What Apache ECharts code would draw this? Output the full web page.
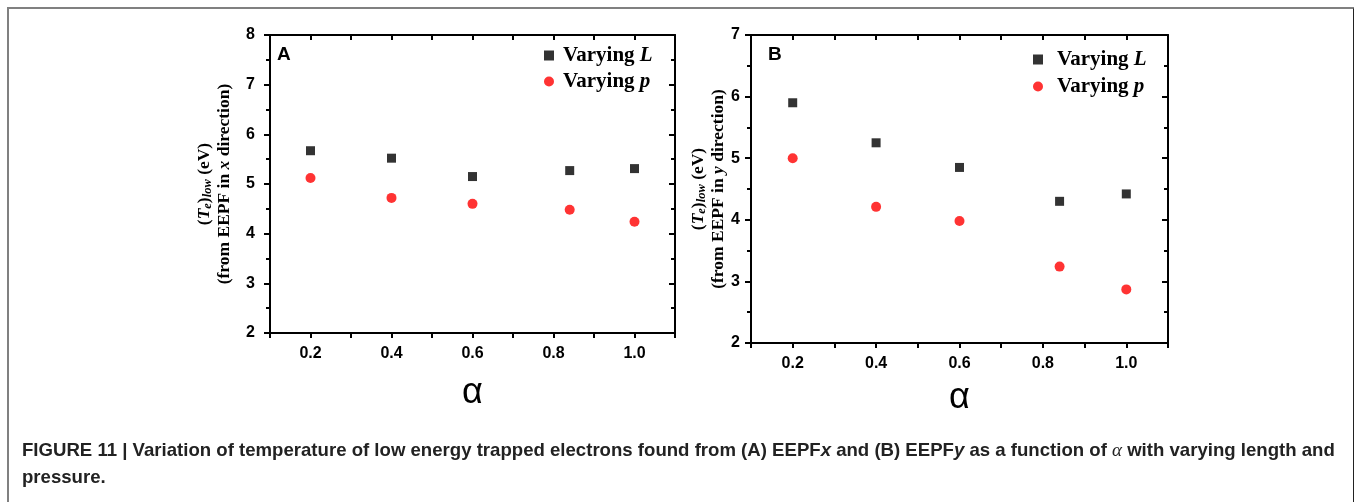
<!DOCTYPE html>
<html>
<head>
<meta charset="utf-8">
<script src="https://cdn.jsdelivr.net/npm/echarts@6/dist/echarts.min.js"></script>
<style>
html,body{margin:0;padding:0;background:#fff;}
#frame{position:absolute;left:7px;top:7px;width:1344px;height:500px;border-top:2px solid #808080;border-left:2px solid #808080;border-right:2px solid #222;}
#chart{position:absolute;left:0;top:0;width:1354px;height:502px;}
</style>
</head>
<body>
<div id="frame"></div>
<div id="chart"></div>
<script>
// ---- data ----
const alphaValues = [0.2, 0.4, 0.6, 0.84, 1.0];
const panelA_varyingL = [5.67, 5.52, 5.15, 5.27, 5.31];
const panelA_varyingP = [5.12, 4.72, 4.60, 4.48, 4.24];
const panelB_varyingL = [5.90, 5.25, 4.85, 4.30, 4.42];
const panelB_varyingP = [5.00, 4.21, 3.98, 3.24, 2.87];
const xTickLabels = ['0.2', '0.4', '0.6', '0.8', '1.0'];
const seriesNames = ['Varying L', 'Varying p'];

const pairs = (xs, ys) => xs.map((x, i) => [x, ys[i]]);

const chart = echarts.init(document.getElementById('chart'), null, {renderer: 'canvas'});

const labelFont = {fontFamily: 'Liberation Sans, Arial, sans-serif', fontWeight: 'bold', fontSize: 16, color: '#000'};
const serif = 'Liberation Serif, Times New Roman, serif';

function xAxes(gridIndex, nameGap) {
  const common = {
    gridIndex, type: 'value', min: 0.1, max: 1.1, interval: 0.1,
    splitLine: {show: false},
    axisLine: {onZero: false, lineStyle: {color: '#000', width: 2}}
  };
  return [
    Object.assign({}, common, {
      position: 'bottom',
      name: 'α', nameLocation: 'middle', nameGap,
      nameTextStyle: {fontFamily: 'Liberation Sans, Arial, sans-serif', fontSize: 36, color: '#000'},
      axisTick: {show: true, inside: false, length: 5, lineStyle: {color: '#000', width: 2}},
      axisLabel: Object.assign({}, labelFont, {margin: 13, formatter: v => {
        const s = v.toFixed(1);
        return xTickLabels.indexOf(s) >= 0 ? s : '';
      }})
    }),
    Object.assign({}, common, {
      position: 'top',
      axisTick: {show: true, inside: true, length: 5, lineStyle: {color: '#000', width: 2}},
      axisLabel: {show: false}
    })
  ];
}

function yAxes(gridIndex, min, max, subject, nameGap, labelMargin) {
  const common = {
    gridIndex, type: 'value', min, max, interval: 1,
    splitLine: {show: false},
    axisLine: {onZero: false, lineStyle: {color: '#000', width: 2}},
    minorTick: {show: true, splitNumber: 2, length: 4, lineStyle: {color: '#000', width: 2}}
  };
  return [
    Object.assign({}, common, {
      position: 'left',
      name: '{a|(}{ai|T}{sub|e}{a|)}{sub|low}{a| (eV)}\n{a|(from EEPF in }{ai|' + subject + '}{a| direction)}',
      nameLocation: 'middle', nameRotate: 90, nameGap,
      nameTextStyle: {
        color: '#000',
        rich: {
          a: {fontFamily: serif, fontWeight: 'bold', fontSize: 17.5, color: '#000', lineHeight: 20},
          ai: {fontFamily: serif, fontWeight: 'bold', fontStyle: 'italic', fontSize: 17.5, color: '#000', lineHeight: 20},
          sub: {fontFamily: serif, fontWeight: 'bold', fontStyle: 'italic', fontSize: 12.5, color: '#000', lineHeight: 13, verticalAlign: 'bottom'}
        }
      },
      axisTick: {show: true, inside: false, length: 6, lineStyle: {color: '#000', width: 2}},
      axisLabel: Object.assign({}, labelFont, {margin: labelMargin})
    }),
    Object.assign({}, common, {
      position: 'right',
      axisTick: {show: true, inside: true, length: 6, lineStyle: {color: '#000', width: 2}},
      axisLabel: {show: false}
    })
  ];
}

function legend(left, top, gap, textPad) {
  return {
    left, top, orient: 'vertical', itemWidth: 10, itemHeight: 10, itemGap: gap,
    selectedMode: false,
    data: [{name: seriesNames[0], icon: 'rect'}, {name: seriesNames[1], icon: 'circle'}],
    formatter: n => n === seriesNames[0] ? '{t|Varying }{i|L}' : '{t|Varying }{i|p}',
    textStyle: {
      rich: {
        t: {fontFamily: serif, fontWeight: 'bold', fontSize: 21, color: '#000', padding: [0, 0, 0, textPad]},
        i: {fontFamily: serif, fontWeight: 'bold', fontStyle: 'italic', fontSize: 21, color: '#000'}
      }
    }
  };
}

function scatter(name, xi, yi, data, symbol, color, size) {
  return {name, type: 'scatter', xAxisIndex: xi, yAxisIndex: yi, data, symbol, symbolSize: size,
    itemStyle: {color}, emphasis: {disabled: true}, z: 5};
}

chart.setOption({
  animation: false,
  grid: [
    {left: 270, top: 35, width: 405, height: 298},
    {left: 751, top: 35, width: 417, height: 308}
  ],
  xAxis: [...xAxes(0, 42), ...xAxes(1, 37)],
  yAxis: [...yAxes(0, 2, 8, 'x', 36, 15), ...yAxes(1, 2, 7, 'y', 23, 11)],
  legend: [legend(539, 40, 5, 4), legend(1028, 44, 6, 9)],
  series: [
    scatter(seriesNames[0], 0, 0, pairs(alphaValues, panelA_varyingL), 'rect', '#000', 9),
    scatter(seriesNames[1], 0, 0, pairs(alphaValues, panelA_varyingP), 'circle', '#ff0000', 10),
    scatter(seriesNames[0], 2, 2, pairs(alphaValues, panelB_varyingL), 'rect', '#000', 9),
    scatter(seriesNames[1], 2, 2, pairs(alphaValues, panelB_varyingP), 'circle', '#ff0000', 10)
  ],
  graphic: [
    {type: 'text', left: 277, top: 45, style: {text: 'A', font: 'bold 19px "Liberation Sans", Arial, sans-serif', fill: '#000'}},
    {type: 'text', left: 768, top: 45, style: {text: 'B', font: 'bold 19px "Liberation Sans", Arial, sans-serif', fill: '#000'}},
    {type: 'text', left: 22, top: 441, style: {
      text: '{b|FIGURE 11 | Variation of temperature of low energy trapped electrons found from (A) EEPF}{bi|x}{b| and (B) EEPF}{bi|y}{b| as a function of }{g|α}{b| with varying length and}\n{b|pressure.}',
      rich: {
        b: {fontFamily: 'Liberation Sans, Arial, sans-serif', fontWeight: 'bold', fontSize: 18.6, fill: '#222', lineHeight: 27},
        bi: {fontFamily: 'Liberation Sans, Arial, sans-serif', fontWeight: 'bold', fontStyle: 'italic', fontSize: 18.6, fill: '#222', lineHeight: 27},
        g: {fontFamily: serif, fontStyle: 'italic', fontSize: 19, fill: '#222', lineHeight: 27}
      }
    }}
  ]
});
</script>
</body>
</html>
